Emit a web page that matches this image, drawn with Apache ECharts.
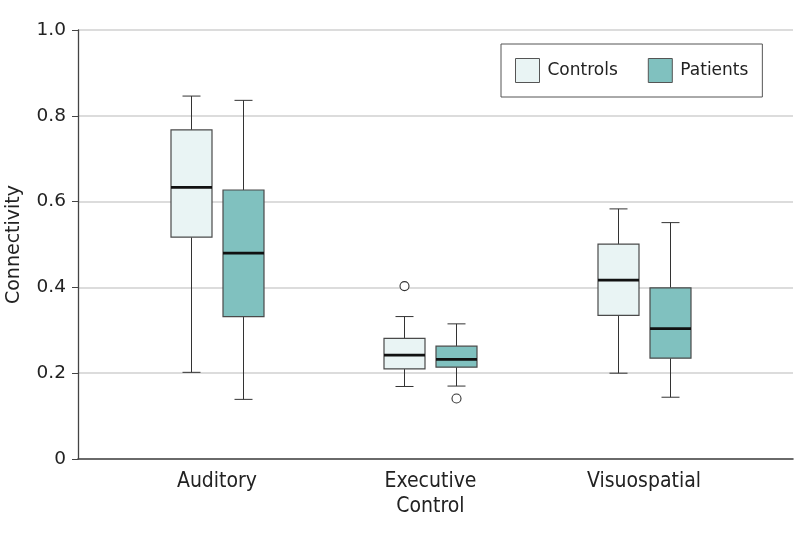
<!DOCTYPE html>
<html>
<head>
<meta charset="utf-8">
<script src="https://cdn.jsdelivr.net/npm/echarts@6/dist/echarts.min.js"></script>
<style>
  html, body { margin: 0; padding: 0; background: #fff; }
  #chart { width: 798px; height: 536px; }
</style>
</head>
<body>
<div id="chart"></div>
<script>
// ---- data ----
const categories = ['Auditory', 'Executive\nControl', 'Visuospatial'];
const seriesNames = ['Controls', 'Patients'];
// [min, Q1, median, Q3, max]
const controlsStats = [
  [0.202, 0.517, 0.633, 0.767, 0.846],
  [0.169, 0.210, 0.242, 0.281, 0.332],
  [0.200, 0.335, 0.417, 0.501, 0.583]
];
const patientsStats = [
  [0.139, 0.332, 0.480, 0.627, 0.836],
  [0.170, 0.214, 0.232, 0.263, 0.315],
  [0.144, 0.235, 0.304, 0.399, 0.551]
];
// [categoryIndex, value]
const controlsOutliers = [[1, 0.403]];
const patientsOutliers = [[1, 0.141]];
const yTicks = [0, 0.2, 0.4, 0.6, 0.8, 1.0];

// ---- style ----
const FONT = "'DejaVu Sans', sans-serif";
const FONT_COND = "'DejaVu Sans Condensed', 'DejaVu Sans', sans-serif";
const COLORS = { Controls: '#e9f4f4', Patients: '#80c1bf' };
const BOX_W = 41, CAP_W = 18, OFFSET = 26;

function withIndex(stats) {
  return stats.map((s, i) => [i].concat(s));
}

function boxRenderer(offset, fill) {
  return function (params, api) {
    const c = api.value(0);
    const p = (v) => api.coord([c, v]);
    const x = Math.round(p(api.value(1))[0] + offset) + 0.5;
    const yMin = p(api.value(1))[1];
    const yQ1 = p(api.value(2))[1];
    const yMed = p(api.value(3))[1];
    const yQ3 = p(api.value(4))[1];
    const yMax = p(api.value(5))[1];
    const hw = BOX_W / 2, cw = CAP_W / 2;
    const lineStyle = { stroke: '#333', lineWidth: 1 };
    return {
      type: 'group',
      children: [
        { type: 'line', shape: { x1: x, y1: yMax, x2: x, y2: yQ3 }, style: lineStyle },
        { type: 'line', shape: { x1: x, y1: yQ1, x2: x, y2: yMin }, style: lineStyle },
        { type: 'line', shape: { x1: x - cw, y1: yMax, x2: x + cw, y2: yMax }, style: lineStyle },
        { type: 'line', shape: { x1: x - cw, y1: yMin, x2: x + cw, y2: yMin }, style: lineStyle },
        { type: 'rect', shape: { x: x - hw, y: yQ3, width: BOX_W, height: yQ1 - yQ3 },
          style: { fill: fill, stroke: '#4a4a4a', lineWidth: 1.2 } },
        { type: 'line', shape: { x1: x - hw, y1: yMed, x2: x + hw, y2: yMed },
          style: { stroke: '#111', lineWidth: 2.8 } }
      ]
    };
  };
}

function outlierRenderer(offset) {
  return function (params, api) {
    const pt = api.coord([api.value(0), api.value(1)]);
    return {
      type: 'circle',
      shape: { cx: Math.round(pt[0] + offset) + 0.5, cy: pt[1], r: 4.5 },
      style: { fill: '#fff', stroke: '#333', lineWidth: 1.1 }
    };
  };
}

const chart = echarts.init(document.getElementById('chart'), null, { renderer: 'canvas' });

const option = {
  animation: false,
  backgroundColor: '#fff',
  grid: { left: 78, right: 5, top: 30, bottom: 77, containLabel: false, outerBoundsMode: 'none' },
  legend: {
    left: 501, top: 44,
    orient: 'horizontal',
    itemWidth: 24, itemHeight: 24, itemGap: 30,
    padding: [14, 14, 14, 14],
    borderColor: '#555', borderWidth: 1, borderRadius: 0,
    selectedMode: false,
    textStyle: { fontFamily: FONT, fontSize: 17, color: '#222', padding: [0, 0, 0, 3] },
    data: [
      { name: 'Controls', icon: 'rect', itemStyle: { color: COLORS.Controls, borderColor: '#555', borderWidth: 1 } },
      { name: 'Patients', icon: 'rect', itemStyle: { color: COLORS.Patients, borderColor: '#555', borderWidth: 1 } }
    ]
  },
  xAxis: {
    type: 'value',
    min: -0.651, max: 2.698,
    axisLine: { show: true, onZero: false, lineStyle: { color: '#444', width: 1.6 } },
    axisTick: { show: false },
    splitLine: { show: false },
    axisLabel: {
      customValues: [0, 1, 2],
      formatter: (v) => categories[Math.round(v)],
      fontFamily: FONT_COND, fontSize: 21, color: '#222',
      lineHeight: 25, margin: 10
    }
  },
  yAxis: {
    type: 'value',
    min: 0, max: 1, interval: 0.2,
    name: 'Connectivity',
    nameLocation: 'middle',
    nameGap: 54,
    nameRotate: 90,
    nameTextStyle: { fontFamily: FONT, fontSize: 19, color: '#222' },
    axisLine: { show: true, onZero: false, lineStyle: { color: '#444', width: 1.3 } },
    axisTick: { show: true, length: 6, lineStyle: { color: '#444', width: 1 } },
    axisLabel: {
      fontFamily: FONT, fontSize: 18.5, color: '#222', margin: 12,
      formatter: (v) => (v === 0 ? '0' : v.toFixed(1))
    },
    splitLine: { show: true, lineStyle: { color: '#dcdcdc', width: 2 } }
  },
  series: [
    {
      name: 'Controls', type: 'custom',
      itemStyle: { color: COLORS.Controls, borderColor: '#555', borderWidth: 1 },
      encode: { x: 0, y: [1, 2, 3, 4, 5] },
      data: withIndex(controlsStats),
      renderItem: boxRenderer(-OFFSET, COLORS.Controls),
      z: 3
    },
    {
      name: 'Patients', type: 'custom',
      itemStyle: { color: COLORS.Patients, borderColor: '#555', borderWidth: 1 },
      encode: { x: 0, y: [1, 2, 3, 4, 5] },
      data: withIndex(patientsStats),
      renderItem: boxRenderer(OFFSET, COLORS.Patients),
      z: 3
    },
    {
      name: 'Controls outliers', type: 'custom',
      encode: { x: 0, y: 1 },
      data: controlsOutliers,
      renderItem: outlierRenderer(-OFFSET),
      z: 4
    },
    {
      name: 'Patients outliers', type: 'custom',
      encode: { x: 0, y: 1 },
      data: patientsOutliers,
      renderItem: outlierRenderer(OFFSET),
      z: 4
    }
  ]
};
chart.setOption(option);
</script>
</body>
</html>
